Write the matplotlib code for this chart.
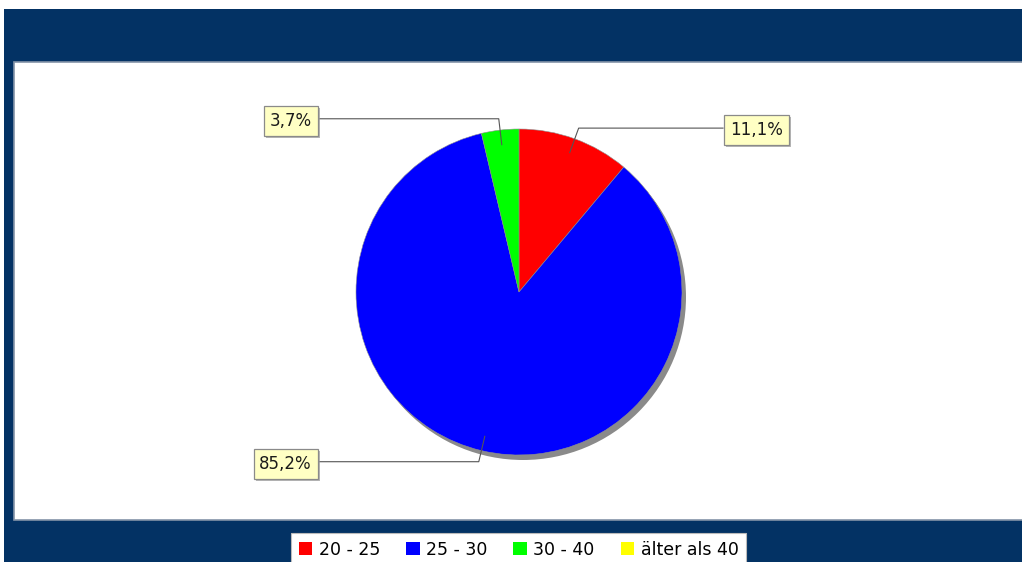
import numpy as np
import matplotlib
matplotlib.use("Agg")
import matplotlib.pyplot as plt
import matplotlib.patches as mpatches
import matplotlib.patheffects as pe

# age groups and head counts
categories = ["20 - 25", "25 - 30", "30 - 40", "älter als 40"]
counts = [3, 23, 1, 0]
colors = ["#ff0000", "#0000ff", "#00ff00", "#ffff00"]

W, H = 1022, 562
NAVY = "#033264"

fig = plt.figure(figsize=(W / 100, H / 100), dpi=100)
fig.patch.set_facecolor("white")
ax = fig.add_axes([0, 0, 1, 1])
ax.set_axis_off()

# navy frame and white plot area
ax.add_patch(mpatches.Rectangle((4, 0), W - 4, H - 9, fc=NAVY, ec="none", zorder=0))
ax.add_patch(mpatches.Rectangle((14, 42), W, 458, fc="white", ec="#8494a8", lw=1.2, zorder=1))

cx, cy, R = 519, 270, 163
total = sum(counts)
vals = [c for c in counts if c > 0]
cols = [col for c, col in zip(counts, colors) if c > 0]

# drop shadow
ax.add_patch(mpatches.Circle((cx + 4, cy - 5), R, fc="#8a8a8a", ec="none", zorder=2))

wedges, _ = ax.pie(vals, colors=cols, startangle=90, counterclock=False,
                   center=(cx, cy), radius=R, frame=True,
                   wedgeprops=dict(edgecolor="#909090", linewidth=0.4))
for w in wedges:
    w.set_zorder(3)

# section labels with leader lines
for w, v in zip(wedges, vals):
    mid = np.radians((w.theta1 + w.theta2) / 2)
    ax_, ay_ = cx + 0.91 * R * np.cos(mid), cy + 0.91 * R * np.sin(mid)
    ex, ey = cx + 1.07 * R * np.cos(mid), cy + 1.07 * R * np.sin(mid)
    if np.cos(mid) >= 0:
        bx, tx, ha = 723, 730, "left"
    else:
        bx, tx, ha = 319, 312, "right"
    ax.plot([ax_, ex, bx], [ay_, ey, ey], color="#555555", lw=0.8, zorder=4)
    txt = f"{v / total * 100:.1f}".replace(".", ",") + "%"
    t = ax.text(tx, ey - 2, txt, ha=ha, va="center", fontsize=12, color="#1a1a1a",
                zorder=5,
                bbox=dict(boxstyle="square,pad=0.35", fc="#ffffc4", ec="#8a8a8a", lw=0.9))
    t.get_bbox_patch().set_path_effects([
        pe.SimplePatchShadow(offset=(1.6, -1.6), shadow_rgbFace="#999999", alpha=0.7),
        pe.Normal()])

ax.set_xlim(0, W)
ax.set_ylim(0, H)
ax.set_aspect("auto")

handles = [mpatches.Rectangle((0, 0), 1, 1, fc=c, ec="none") for c in colors]
leg = ax.legend(handles, categories, loc="upper center", bbox_to_anchor=(518.5 / W, 29 / H),
                ncol=4, frameon=True, fancybox=False, fontsize=12.5, framealpha=1,
                handlelength=0.8, handleheight=0.8, handletextpad=0.35,
                columnspacing=1.5, borderpad=0.45, borderaxespad=0)
leg.get_frame().set_facecolor("white")
leg.get_frame().set_edgecolor("#bbbbbb")
leg.get_frame().set_linewidth(0.8)
leg.set_zorder(6)

fig.savefig("out.png", dpi=100)
